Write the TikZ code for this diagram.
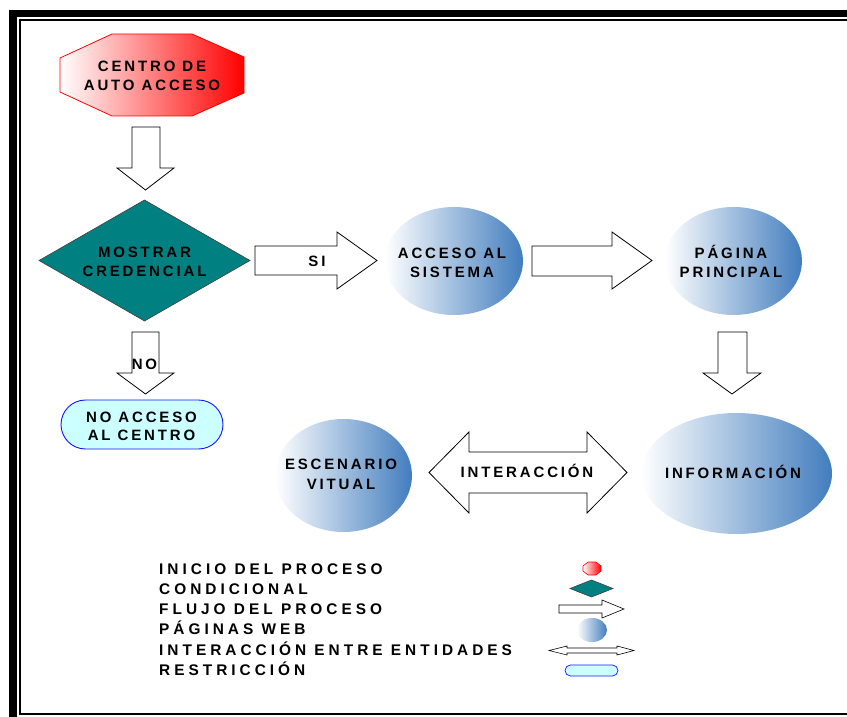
\documentclass[tikz,border=0pt]{standalone}
\usepackage{fontspec}
\newfontfamily\lsans[LetterSpace=19]{Liberation Sans}
\newfontfamily\lsansleg[LetterSpace=26]{Liberation Sans}
\definecolor{webblue}{RGB}{66,125,190}
\definecolor{condteal}{RGB}{0,128,128}
\definecolor{restfill}{RGB}{204,255,255}
\definecolor{restdraw}{RGB}{20,20,255}
\tikzset{
  lbl/.style={font={\lsans\bfseries\fontsize{15}{19}\selectfont}, align=center, inner sep=0pt, text=black},
  leg/.style={font={\lsansleg\bfseries\fontsize{15.4}{19}\selectfont}, anchor=base west, inner sep=0pt, text=black},
  barrow/.style={draw=black, fill=white, line width=0.8pt, line join=miter},
  web/.style={shading=axis, left color=white, right color=webblue},
  startshape/.style={shading=axis, left color=white, right color=red, draw=red, line width=0.8pt},
  condshape/.style={fill=condteal, draw=black!75, line width=0.6pt},
  restshape/.style={fill=restfill, draw=restdraw, line width=0.9pt},
}
\begin{document}
\begin{tikzpicture}[x=1pt,y=-1pt]
\useasboundingbox (0,0) rectangle (847,717);
% frame
\fill[black] (9,10) rectangle (17.3,717);
\fill[black] (9,10) rectangle (847,17.5);
\draw[line width=1.8pt] (847,19.8) -- (20,19.8) -- (20,714.3) -- (847,714.3);

% start octagon
\shadedraw[startshape] (112,34) -- (192,34) -- (244,57) -- (244,93) -- (192,116) -- (112,116) -- (60,92) -- (60,58) -- cycle;
\node[lbl] (centro) at (152,76) {CENTRO DE\\[-0.5pt]AUTO ACCESO};

% arrow down 1
\draw[barrow] (132,127) -- (160,127) -- (160,168) -- (174,168) -- (145.5,190) -- (117,168) -- (132,168) -- cycle;

% diamond
\filldraw[condshape] (39,260.5) -- (144.5,200) -- (250,260.5) -- (144.5,321) -- cycle;
\node[lbl] (mostrar) at (144.5,261.5) {MOSTRAR\\CREDENCIAL};

% SI arrow
\draw[barrow] (255,246) -- (337,246) -- (337,232) -- (377,260.5) -- (337,289) -- (337,275) -- (255,275) -- cycle;
\node[lbl, text height=10.7pt, text depth=0pt] (si) at (317,261) {SI};

% acceso al sistema
\shade[web] (454,261) ellipse [x radius=69, y radius=54];
\node[lbl] (acceso) at (452,262.5) {ACCESO AL\\SISTEMA};

% arrow 2
\draw[barrow] (532,246) -- (612,246) -- (612,232) -- (652,260.5) -- (612,289) -- (612,276) -- (532,276) -- cycle;

% pagina principal
\shade[web] (733.5,261) ellipse [x radius=68.5, y radius=54];
\node[lbl] (pagina) at (731,261) {PÁGINA\\PRINCIPAL};

% arrow down 3
\draw[barrow] (718,332) -- (747,332) -- (747,373) -- (761,373) -- (732,394) -- (703,373) -- (718,373) -- cycle;

% NO arrow
\draw[barrow] (132,332) -- (159,332) -- (159,373) -- (174,373) -- (145.5,394) -- (117,373) -- (132,373) -- cycle;
\node[lbl, text height=10.7pt, text depth=0pt] (no) at (144.5,364) {NO};

% no acceso al centro
\filldraw[restshape, rounded corners=24.5pt] (61,400) rectangle (223,449);
\node[lbl] (noacceso) at (141.5,426) {NO ACCESO\\[-1pt]AL CENTRO};

% escenario virtual
\shade[web] (343.5,475.5) ellipse [x radius=68.5, y radius=56.5];
\node[lbl] (escenario) at (341,474.5) {ESCENARIO\\[1pt]VITUAL};

% double arrow
\draw[barrow] (429,472.5) -- (469,432) -- (469,452) -- (587,452) -- (587,432) -- (627,472.5) -- (587,513) -- (587,493) -- (469,493) -- (469,513) -- cycle;
\node[lbl, text height=10.7pt, text depth=0pt] (interaccion) at (527,472.5) {INTERACCIÓN};

% informacion
\shade[web] (736.5,473.5) ellipse [x radius=95.5, y radius=60.5];
\node[lbl, text height=10.7pt, text depth=0pt] (informacion) at (733,473) {INFORMACIÓN};

% legend
\node[leg] (leg1) at (159,574.3) {INICIO DEL PROCESO};
\node[leg] (leg2) at (159,594.3) {CONDICIONAL};
\node[leg] (leg3) at (159,614.3) {FLUJO DEL PROCESO};
\node[leg] (leg4) at (159,634.5) {PÁGINAS WEB};
\node[leg] (leg5) at (159,655) {INTERACCIÓN ENTRE ENTIDADES};
\node[leg] (leg6) at (159,675) {RESTRICCIÓN};

\shadedraw[startshape, line width=0.6pt] (588,562) -- (596,562) -- (601,566) -- (601,571) -- (596,575) -- (588,575) -- (583,571) -- (583,566) -- cycle;
\filldraw[condshape] (570,588.5) -- (591.5,580) -- (613,588.5) -- (591.5,597) -- cycle;
\draw[barrow, line width=0.6pt] (559,605) -- (602,605) -- (602,600) -- (624,609) -- (602,618) -- (602,613) -- (559,613) -- cycle;
\shade[web] (592,630) ellipse [x radius=15, y radius=12];
\draw[barrow, line width=0.6pt] (549,650.5) -- (567,646) -- (567,648) -- (617,648) -- (617,646) -- (634,650.5) -- (617,655) -- (617,653) -- (567,653) -- (567,655) -- cycle;
\filldraw[restshape, rounded corners=5.5pt, line width=0.7pt] (565,665) rectangle (618,676);
\end{tikzpicture}
\end{document}
